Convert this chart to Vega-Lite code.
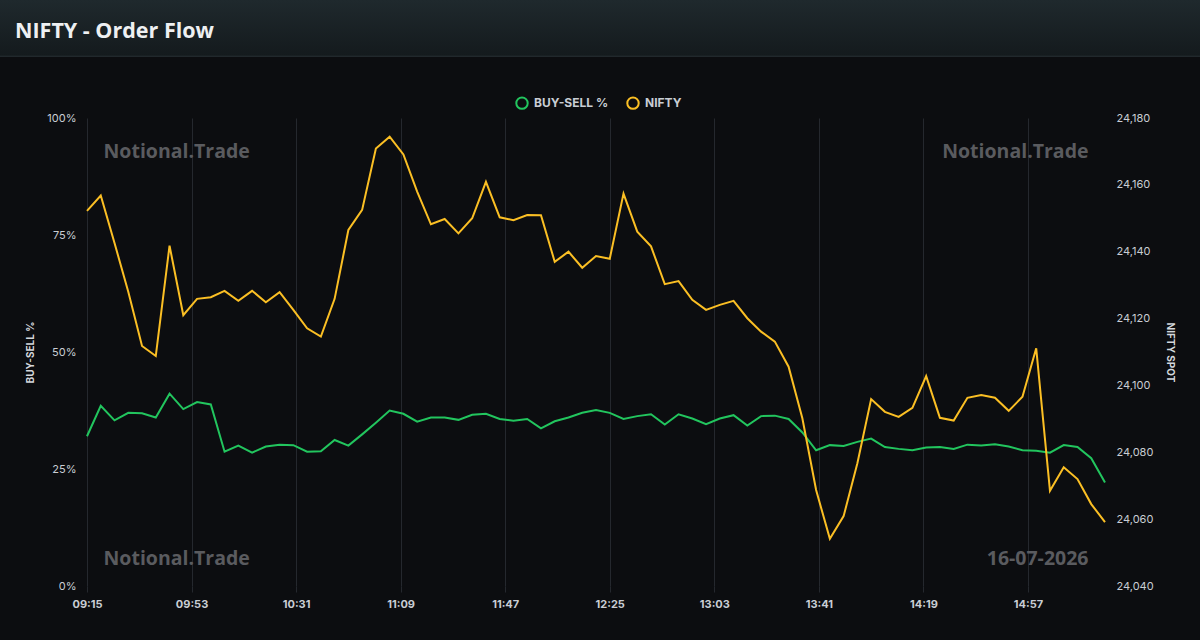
{
  "$schema": "https://vega.github.io/schema/vega-lite/v6.json",
  "width": 1018,
  "height": 468,
  "autosize": {"type": "none"},
  "padding": {"left": 87, "top": 118, "right": 95, "bottom": 54},
  "background": "#0c0d10",
  "title": {
    "text": "NIFTY - Order Flow",
    "anchor": "start",
    "frame": "group",
    "dx": -72,
    "offset": 0,
    "dy": 42,
    "font": "Open Sans",
    "fontSize": 21.5,
    "fontWeight": "bold",
    "color": "#eef0f2"
  },
  "config": {
    "view": {"stroke": null},
    "axis": {"labelFont": "Inter", "titleFont": "Inter"},
    "legend": {"labelFont": "Inter"}
  },
  "data": {
    "values": [
      {"t": "2026-07-16T09:15:00", "bs": 32.0, "nifty": 24152.2},
      {"t": "2026-07-16T09:20:00", "bs": 38.5, "nifty": 24156.8},
      {"t": "2026-07-16T09:25:00", "bs": 35.4, "nifty": 24142.6},
      {"t": "2026-07-16T09:30:00", "bs": 37.0, "nifty": 24128.0},
      {"t": "2026-07-16T09:35:00", "bs": 36.9, "nifty": 24111.8},
      {"t": "2026-07-16T09:40:00", "bs": 36.0, "nifty": 24108.8},
      {"t": "2026-07-16T09:45:00", "bs": 41.1, "nifty": 24141.8},
      {"t": "2026-07-16T09:50:00", "bs": 37.8, "nifty": 24121.0},
      {"t": "2026-07-16T09:55:00", "bs": 39.3, "nifty": 24125.9},
      {"t": "2026-07-16T10:00:00", "bs": 38.8, "nifty": 24126.4},
      {"t": "2026-07-16T10:05:00", "bs": 28.7, "nifty": 24128.3},
      {"t": "2026-07-16T10:10:00", "bs": 30.0, "nifty": 24125.3},
      {"t": "2026-07-16T10:15:00", "bs": 28.5, "nifty": 24128.3},
      {"t": "2026-07-16T10:20:00", "bs": 29.8, "nifty": 24124.9},
      {"t": "2026-07-16T10:25:00", "bs": 30.2, "nifty": 24127.9},
      {"t": "2026-07-16T10:30:00", "bs": 30.1, "nifty": 24122.6},
      {"t": "2026-07-16T10:35:00", "bs": 28.7, "nifty": 24117.1},
      {"t": "2026-07-16T10:40:00", "bs": 28.8, "nifty": 24114.6},
      {"t": "2026-07-16T10:45:00", "bs": 31.2, "nifty": 24125.9},
      {"t": "2026-07-16T10:50:00", "bs": 30.0, "nifty": 24146.5},
      {"t": "2026-07-16T10:55:00", "bs": 32.4, "nifty": 24152.5},
      {"t": "2026-07-16T11:00:00", "bs": 34.9, "nifty": 24170.9},
      {"t": "2026-07-16T11:05:00", "bs": 37.5, "nifty": 24174.4},
      {"t": "2026-07-16T11:10:00", "bs": 36.8, "nifty": 24169.1},
      {"t": "2026-07-16T11:15:00", "bs": 35.1, "nifty": 24158.0},
      {"t": "2026-07-16T11:20:00", "bs": 36.0, "nifty": 24148.2},
      {"t": "2026-07-16T11:25:00", "bs": 36.0, "nifty": 24149.8},
      {"t": "2026-07-16T11:30:00", "bs": 35.5, "nifty": 24145.5},
      {"t": "2026-07-16T11:35:00", "bs": 36.6, "nifty": 24150.0},
      {"t": "2026-07-16T11:40:00", "bs": 36.8, "nifty": 24160.9},
      {"t": "2026-07-16T11:45:00", "bs": 35.7, "nifty": 24150.3},
      {"t": "2026-07-16T11:50:00", "bs": 35.3, "nifty": 24149.4},
      {"t": "2026-07-16T11:55:00", "bs": 35.7, "nifty": 24151.0},
      {"t": "2026-07-16T12:00:00", "bs": 33.7, "nifty": 24150.9},
      {"t": "2026-07-16T12:05:00", "bs": 35.2, "nifty": 24137.0},
      {"t": "2026-07-16T12:10:00", "bs": 36.0, "nifty": 24140.0},
      {"t": "2026-07-16T12:15:00", "bs": 37.0, "nifty": 24135.2},
      {"t": "2026-07-16T12:20:00", "bs": 37.6, "nifty": 24138.7},
      {"t": "2026-07-16T12:25:00", "bs": 37.0, "nifty": 24137.9},
      {"t": "2026-07-16T12:30:00", "bs": 35.7, "nifty": 24157.4},
      {"t": "2026-07-16T12:35:00", "bs": 36.3, "nifty": 24146.0},
      {"t": "2026-07-16T12:40:00", "bs": 36.7, "nifty": 24141.6},
      {"t": "2026-07-16T12:45:00", "bs": 34.5, "nifty": 24130.3},
      {"t": "2026-07-16T12:50:00", "bs": 36.7, "nifty": 24131.2},
      {"t": "2026-07-16T12:55:00", "bs": 35.8, "nifty": 24125.6},
      {"t": "2026-07-16T13:00:00", "bs": 34.6, "nifty": 24122.6},
      {"t": "2026-07-16T13:05:00", "bs": 35.8, "nifty": 24124.1},
      {"t": "2026-07-16T13:10:00", "bs": 36.5, "nifty": 24125.3},
      {"t": "2026-07-16T13:15:00", "bs": 34.3, "nifty": 24120.1},
      {"t": "2026-07-16T13:20:00", "bs": 36.3, "nifty": 24116.1},
      {"t": "2026-07-16T13:25:00", "bs": 36.4, "nifty": 24113.1},
      {"t": "2026-07-16T13:30:00", "bs": 35.7, "nifty": 24105.6},
      {"t": "2026-07-16T13:35:00", "bs": 32.8, "nifty": 24090.2},
      {"t": "2026-07-16T13:40:00", "bs": 29.0, "nifty": 24068.7},
      {"t": "2026-07-16T13:45:00", "bs": 30.1, "nifty": 24054.1},
      {"t": "2026-07-16T13:50:00", "bs": 29.9, "nifty": 24060.9},
      {"t": "2026-07-16T13:55:00", "bs": 30.8, "nifty": 24076.7},
      {"t": "2026-07-16T14:00:00", "bs": 31.5, "nifty": 24095.9},
      {"t": "2026-07-16T14:05:00", "bs": 29.7, "nifty": 24092.1},
      {"t": "2026-07-16T14:10:00", "bs": 29.3, "nifty": 24090.6},
      {"t": "2026-07-16T14:15:00", "bs": 29.0, "nifty": 24093.3},
      {"t": "2026-07-16T14:20:00", "bs": 29.6, "nifty": 24102.8},
      {"t": "2026-07-16T14:25:00", "bs": 29.7, "nifty": 24090.3},
      {"t": "2026-07-16T14:30:00", "bs": 29.3, "nifty": 24089.5},
      {"t": "2026-07-16T14:35:00", "bs": 30.2, "nifty": 24096.3},
      {"t": "2026-07-16T14:40:00", "bs": 30.0, "nifty": 24097.1},
      {"t": "2026-07-16T14:45:00", "bs": 30.3, "nifty": 24096.3},
      {"t": "2026-07-16T14:50:00", "bs": 29.8, "nifty": 24092.4},
      {"t": "2026-07-16T14:55:00", "bs": 29.0, "nifty": 24096.6},
      {"t": "2026-07-16T15:00:00", "bs": 28.9, "nifty": 24111.1},
      {"t": "2026-07-16T15:05:00", "bs": 28.5, "nifty": 24068.5},
      {"t": "2026-07-16T15:10:00", "bs": 30.1, "nifty": 24075.5},
      {"t": "2026-07-16T15:15:00", "bs": 29.7, "nifty": 24072.0},
      {"t": "2026-07-16T15:20:00", "bs": 27.3, "nifty": 24064.5},
      {"t": "2026-07-16T15:25:00", "bs": 22.1, "nifty": 24059.1}
    ]
  },
  "layer": [
    {
      "layer": [
        {
          "data": {"values": [{}]},
          "mark": {
            "type": "rect",
            "color": {
              "gradient": "linear",
              "x1": 0, "y1": 0, "x2": 0, "y2": 1,
              "stops": [
                {"offset": 0, "color": "#1f292d"},
                {"offset": 1, "color": "#141a1d"}
              ]
            }
          },
          "encoding": {
            "x": {"datum": {"year": 2026, "month": 7, "date": 16, "hours": 8, "minutes": 40}, "type": "temporal"},
            "x2": {"datum": {"year": 2026, "month": 7, "date": 16, "hours": 16, "minutes": 20}},
            "y": {"datum": 113.2, "type": "quantitative"},
            "y2": {"datum": 125.2}
          }
        },
        {
          "data": {"values": [{}]},
          "mark": {"type": "rule", "color": "#2a3337", "strokeWidth": 1},
          "encoding": {
            "x": {"datum": {"year": 2026, "month": 7, "date": 16, "hours": 8, "minutes": 40}, "type": "temporal"},
            "x2": {"datum": {"year": 2026, "month": 7, "date": 16, "hours": 16, "minutes": 20}},
            "y": {"datum": 113.2, "type": "quantitative"}
          }
        },
        {
          "data": {"values": [{}]},
          "mark": {"type": "text", "text": "Notional.Trade", "align": "left", "baseline": "middle", "font": "Open Sans", "fontSize": 19.5, "fontWeight": "bold", "color": "#5a5b5f"},
          "encoding": {
            "x": {"datum": {"year": 2026, "month": 7, "date": 16, "hours": 9, "minutes": 21, "seconds": 0}, "type": "temporal"},
            "y": {"datum": 92.8, "type": "quantitative"}
          }
        },
        {
          "data": {"values": [{}]},
          "mark": {"type": "text", "text": "Notional.Trade", "align": "right", "baseline": "middle", "font": "Open Sans", "fontSize": 19.5, "fontWeight": "bold", "color": "#5a5b5f"},
          "encoding": {
            "x": {"datum": {"year": 2026, "month": 7, "date": 16, "hours": 15, "minutes": 19, "seconds": 0}, "type": "temporal"},
            "y": {"datum": 92.8, "type": "quantitative"}
          }
        },
        {
          "data": {"values": [{}]},
          "mark": {"type": "text", "text": "Notional.Trade", "align": "left", "baseline": "middle", "font": "Open Sans", "fontSize": 19.5, "fontWeight": "bold", "color": "#5a5b5f"},
          "encoding": {
            "x": {"datum": {"year": 2026, "month": 7, "date": 16, "hours": 9, "minutes": 21, "seconds": 0}, "type": "temporal"},
            "y": {"datum": 5.8, "type": "quantitative"}
          }
        },
        {
          "data": {"values": [{}]},
          "mark": {"type": "text", "text": "16-07-2026", "align": "right", "baseline": "middle", "font": "Open Sans", "fontSize": 19.5, "fontWeight": "bold", "color": "#5a5b5f"},
          "encoding": {
            "x": {"datum": {"year": 2026, "month": 7, "date": 16, "hours": 15, "minutes": 19, "seconds": 0}, "type": "temporal"},
            "y": {"datum": 5.8, "type": "quantitative"}
          }
        },
        {
          "mark": {"type": "line", "strokeWidth": 2, "interpolate": "linear"},
          "encoding": {
            "x": {
              "field": "t",
              "type": "temporal",
              "scale": {
                "domain": [
                  {"year": 2026, "month": 7, "date": 16, "hours": 9, "minutes": 15},
                  {"year": 2026, "month": 7, "date": 16, "hours": 15, "minutes": 25}
                ],
                "nice": false
              },
              "axis": {
                "title": null,
                "values": [
                  {"year": 2026, "month": 7, "date": 16, "hours": 9, "minutes": 15},
                  {"year": 2026, "month": 7, "date": 16, "hours": 9, "minutes": 53},
                  {"year": 2026, "month": 7, "date": 16, "hours": 10, "minutes": 31},
                  {"year": 2026, "month": 7, "date": 16, "hours": 11, "minutes": 9},
                  {"year": 2026, "month": 7, "date": 16, "hours": 11, "minutes": 47},
                  {"year": 2026, "month": 7, "date": 16, "hours": 12, "minutes": 25},
                  {"year": 2026, "month": 7, "date": 16, "hours": 13, "minutes": 3},
                  {"year": 2026, "month": 7, "date": 16, "hours": 13, "minutes": 41},
                  {"year": 2026, "month": 7, "date": 16, "hours": 14, "minutes": 19},
                  {"year": 2026, "month": 7, "date": 16, "hours": 14, "minutes": 57}
                ],
                "format": "%H:%M",
                "grid": true,
                "gridColor": "#25282e",
                "gridWidth": 1,
                "domain": false,
                "ticks": true,
                "tickColor": "#25282e",
                "tickSize": 6,
                "labelPadding": 6,
                "labelFontSize": 11,
                "labelFontWeight": "bold",
                "labelColor": "#c9cdd4",
                "labelFlush": false,
                "labelOverlap": false
              }
            },
            "y": {
              "field": "bs",
              "type": "quantitative",
              "scale": {"domain": [0, 100], "nice": false},
              "axis": {
                "orient": "left",
                "title": "BUY-SELL %",
                "titleFontSize": 10,
                "titleFontWeight": "bold",
                "titleColor": "#d4d7dc",
                "titleAngle": -90,
                "titleX": -57,
                "titleY": 234,
                "titleAlign": "center",
                "titleBaseline": "middle",
                "values": [0, 25, 50, 75, 100],
                "labelExpr": "datum.value + '%'",
                "labelFontSize": 11,
                "labelColor": "#c9cdd4",
                "labelPadding": 11,
                "grid": false,
                "domain": false,
                "ticks": false
              }
            },
            "color": {
              "datum": "BUY-SELL %",
              "type": "nominal",
              "scale": {"domain": ["BUY-SELL %", "NIFTY"], "range": ["#22c55e", "#fbbf24"]},
              "legend": {
                "title": null,
                "orient": "none",
                "legendX": 428,
                "legendY": -22,
                "direction": "horizontal",
                "symbolType": "circle",
                "symbolSize": 130,
                "symbolStrokeWidth": 2,
                "symbolFillColor": "transparent",
                "labelFontSize": 12,
                "labelFontWeight": "bold",
                "labelColor": "#c9cdd4",
                "labelOffset": 5,
                "columnPadding": 14
              }
            }
          }
        }
      ]
    },
    {
      "mark": {"type": "line", "strokeWidth": 2, "interpolate": "linear"},
      "encoding": {
        "x": {"field": "t", "type": "temporal"},
        "y": {
          "field": "nifty",
          "type": "quantitative",
          "scale": {"domain": [24040, 24180], "nice": false, "zero": false},
          "axis": {
            "orient": "right",
            "title": "NIFTY SPOT",
            "titleFontSize": 10,
            "titleFontWeight": "bold",
            "titleColor": "#d4d7dc",
            "titleAngle": 90,
            "titleX": 64,
            "titleY": 234,
            "titleAlign": "center",
            "titleBaseline": "middle",
            "values": [24040, 24060, 24080, 24100, 24120, 24140, 24160, 24180],
            "format": ",.0f",
            "labelFontSize": 11,
            "labelColor": "#c9cdd4",
            "labelPadding": 11,
            "grid": false,
            "domain": false,
            "ticks": false
          }
        },
        "color": {"datum": "NIFTY", "type": "nominal"}
      }
    }
  ],
  "resolve": {"scale": {"y": "independent"}}
}
